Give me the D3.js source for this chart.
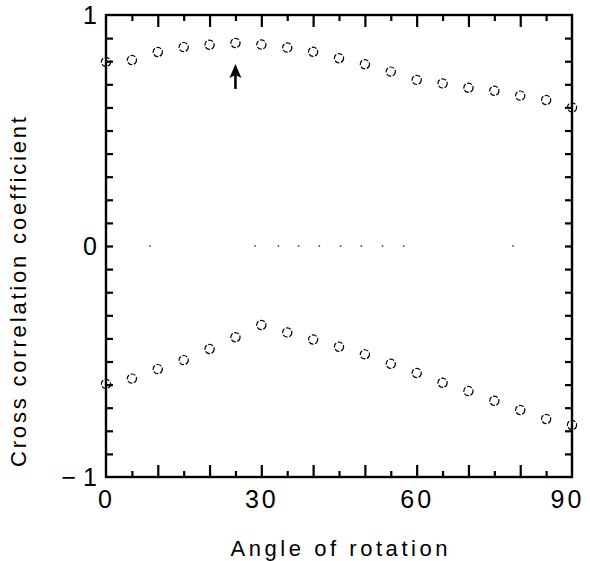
<!DOCTYPE html>
<html>
<head>
<meta charset="utf-8">
<script src="https://cdn.jsdelivr.net/npm/d3@7/dist/d3.min.js"></script>
<style>
  html, body { margin: 0; padding: 0; background: #fff; }
  svg { display: block; }
  text { font-family: "Liberation Sans", "DejaVu Sans", sans-serif; fill: #000; }
</style>
</head>
<body>
<svg id="chart" width="590" height="561"></svg>
<script>
// ---- data ----
const angles = [0, 5, 10, 15, 20, 25, 30, 35, 40, 45, 50, 55, 60, 65, 70, 75, 80, 85, 90];
const upperSeries = [0.797, 0.805, 0.840, 0.861, 0.871, 0.879, 0.872, 0.859, 0.841, 0.813, 0.787, 0.755, 0.719, 0.704, 0.685, 0.672, 0.651, 0.632, 0.600];
const lowerSeries = [-0.597, -0.574, -0.533, -0.494, -0.446, -0.395, -0.342, -0.374, -0.405, -0.436, -0.469, -0.510, -0.550, -0.592, -0.628, -0.670, -0.710, -0.749, -0.775];
const zeroDotsX = [8.5, 28.8, 33.3, 37.2, 41.2, 45.3, 49.3, 53.4, 57.5, 78.6];
const xTickLabels = [0, 30, 60, 90];
const xMajorTicks = [10, 20, 30, 40, 50, 60, 70, 80];
const xMinorTicks = [5, 15, 25, 35, 45, 55, 65, 75, 85];
const yTicks = d3.range(-9, 10).map(d => d / 10);
const yTickValues = [-1, 0, 1];
const yTickLabels = ["\u2212 1", "0", "1"];
const arrowAnnotation = { x: 25, tip: 0.788, tail: 0.680 };
const xTitle = "Angle of rotation";
const yTitle = "Cross correlation coefficient";

// ---- layout ----
const svg = d3.select("#chart");
const mLeft = 106, mRight = 572, mTop = 15, mBottom = 477;
const x = d3.scaleLinear().domain([0, 90]).range([mLeft, mRight]);
const y = d3.scaleLinear().domain([-1, 1]).range([mBottom, mTop]);

function styleAxis(g) {
  g.select(".domain").remove();
  g.selectAll("line").attr("stroke", "#000").attr("stroke-width", 2.2);
}

// frame
svg.append("rect")
  .attr("x", mLeft).attr("y", mTop)
  .attr("width", mRight - mLeft).attr("height", mBottom - mTop)
  .attr("fill", "none").attr("stroke", "#000").attr("stroke-width", 2.4);

// bottom ticks (inward)
svg.append("g").attr("transform", `translate(0,${mBottom})`)
  .call(d3.axisBottom(x).tickValues(xMajorTicks).tickSize(-12).tickFormat(""))
  .call(styleAxis);
svg.append("g").attr("transform", `translate(0,${mBottom})`)
  .call(d3.axisBottom(x).tickValues(xMinorTicks).tickSize(-6).tickFormat(""))
  .call(styleAxis);
// top ticks (inward)
svg.append("g").attr("transform", `translate(0,${mTop})`)
  .call(d3.axisTop(x).tickValues(xMajorTicks).tickSize(-12).tickFormat(""))
  .call(styleAxis);
svg.append("g").attr("transform", `translate(0,${mTop})`)
  .call(d3.axisTop(x).tickValues(xMinorTicks).tickSize(-6).tickFormat(""))
  .call(styleAxis);
// left / right ticks (inward)
svg.append("g").attr("transform", `translate(${mLeft},0)`)
  .call(d3.axisLeft(y).tickValues(yTicks).tickSize(-7).tickFormat(""))
  .call(styleAxis);
svg.append("g").attr("transform", `translate(${mRight},0)`)
  .call(d3.axisRight(y).tickValues(yTicks).tickSize(-7).tickFormat(""))
  .call(styleAxis);

// x tick labels
const xl = svg.append("g").attr("transform", `translate(0,${mBottom})`)
  .call(d3.axisBottom(x).tickValues(xTickLabels).tickSize(0).tickPadding(13).tickFormat(d => String(d)));
xl.select(".domain").remove();
xl.selectAll("text").attr("font-size", 25).attr("letter-spacing", 3)
  .style("font-family", "'Liberation Sans', sans-serif")
  .attr("dx", d => d === 90 ? -5 : 0);

// y tick labels
const yl = svg.append("g").attr("transform", `translate(${mLeft},0)`)
  .call(d3.axisLeft(y).tickValues(yTickValues).tickSize(0).tickPadding(9)
    .tickFormat((d, i) => yTickLabels[i]));
yl.select(".domain").remove();
yl.selectAll("text").attr("font-size", 25)
  .style("font-family", "'Liberation Sans', sans-serif");

// zero dotted remnants
svg.append("g").selectAll("circle").data(zeroDotsX).join("circle")
  .attr("cx", d => x(d)).attr("cy", y(0)).attr("r", 0.9)
  .attr("fill", "#555");

// series circles
function drawSeries(vals) {
  svg.append("g").selectAll("circle").data(angles.map((a, i) => [a, vals[i]])).join("circle")
    .attr("cx", d => x(d[0])).attr("cy", d => y(d[1])).attr("r", 4.6)
    .attr("fill", "none").attr("stroke", "#000").attr("stroke-width", 1.2)
    .attr("stroke-dasharray", "5,1.6");
}
drawSeries(upperSeries);
drawSeries(lowerSeries);

// arrow annotation
const ax = x(arrowAnnotation.x), ay1 = y(arrowAnnotation.tip), ay2 = y(arrowAnnotation.tail);
svg.append("line")
  .attr("x1", ax).attr("x2", ax).attr("y1", ay1 + 8).attr("y2", ay2)
  .attr("stroke", "#000").attr("stroke-width", 2.6);
svg.append("path")
  .attr("d", `M${ax},${ay1} L${ax - 6},${ay1 + 14} L${ax},${ay1 + 11} L${ax + 6},${ay1 + 14} Z`)
  .attr("fill", "#000");

// titles
svg.append("text")
  .attr("x", (mLeft + mRight) / 2).attr("y", 556)
  .attr("text-anchor", "middle").attr("font-size", 22)
  .attr("textLength", 217).attr("lengthAdjust", "spacing")
  .text(xTitle);
svg.append("text")
  .attr("transform", `translate(26,292) rotate(-90)`)
  .attr("text-anchor", "middle").attr("font-size", 22)
  .attr("textLength", 350).attr("lengthAdjust", "spacing")
  .text(yTitle);
</script>
</body>
</html>
